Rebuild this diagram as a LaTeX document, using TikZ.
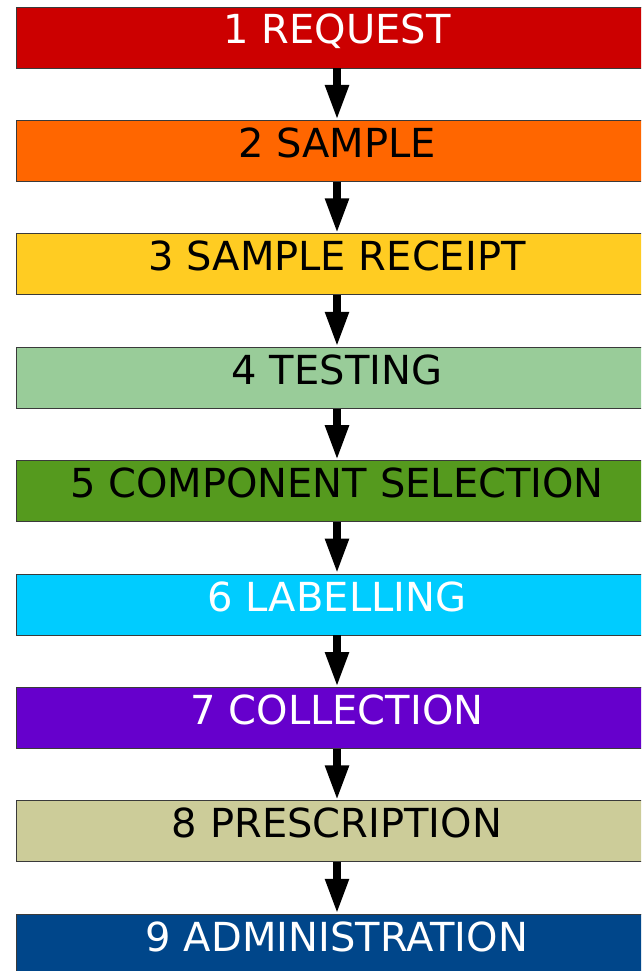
\documentclass[tikz,border=0pt]{standalone}
\usepackage{fontspec}
\setmainfont{DejaVu Sans}
\usepackage{tikz}
\usetikzlibrary{arrows.meta}
\definecolor{stred}{HTML}{CC0000}
\definecolor{storange}{HTML}{FF6600}
\definecolor{styellow}{HTML}{FFCC22}
\definecolor{stmint}{HTML}{99CC99}
\definecolor{stgreen}{HTML}{559A1E}
\definecolor{stcyan}{HTML}{00CCFF}
\definecolor{stpurple}{HTML}{6600CC}
\definecolor{stbeige}{HTML}{CCCC99}
\definecolor{stnavy}{HTML}{00468A}
\definecolor{stedge}{HTML}{3A3A3A}
\tikzset{
  stage/.style={draw=stedge, line width=0.8pt, minimum width=642pt, minimum height=61pt, inner sep=0pt,
    text height=30pt, text depth=17pt, font=\fontsize{40}{48}\selectfont},
  lite/.style={stage, text=white},
  dark/.style={stage, text=black},
  flow/.style={-{Triangle[length=35pt, width=22pt]}, line width=8pt, color=black},
}
\begin{document}
\begin{tikzpicture}[x=1pt, y=-1pt]
  \useasboundingbox (0,0) rectangle (641,971);
  \clip (0,0) rectangle (641,971);
  \node[lite, fill=stred] (req) at (337,37.5) {1 REQUEST};
  \node[dark, fill=storange] (smp) at (337,150.9) {2 SAMPLE};
  \node[dark, fill=styellow] (rcp) at (337,264.3) {3 SAMPLE RECEIPT};
  \node[dark, fill=stmint] (tst) at (337,377.7) {4 TESTING};
  \node[dark, fill=stgreen] (sel) at (337,491.1) {5 COMPONENT SELECTION};
  \node[lite, fill=stcyan] (lab) at (337,604.5) {6 LABELLING};
  \node[lite, fill=stpurple] (col) at (337,717.9) {7 COLLECTION};
  \node[dark, fill=stbeige] (rx) at (337,831.3) {8 PRESCRIPTION};
  \node[lite, fill=stnavy] (adm) at (337,944.7) {9 ADMINISTRATION};
  \draw[flow] (req) -- (smp);
  \draw[flow] (smp) -- (rcp);
  \draw[flow] (rcp) -- (tst);
  \draw[flow] (tst) -- (sel);
  \draw[flow] (sel) -- (lab);
  \draw[flow] (lab) -- (col);
  \draw[flow] (col) -- (rx);
  \draw[flow] (rx) -- (adm);
\end{tikzpicture}
\end{document}
